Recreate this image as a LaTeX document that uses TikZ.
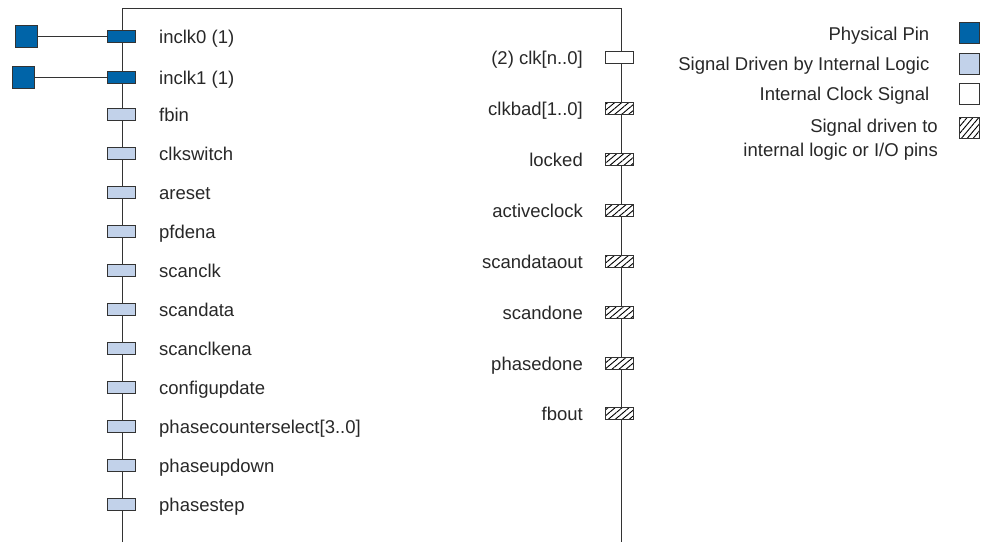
\documentclass[tikz,border=0pt]{standalone}
\usepackage{fontspec}
\setmainfont{Liberation Sans}
\usetikzlibrary{positioning,patterns.meta}
\definecolor{pinblue}{RGB}{0,100,168}
\definecolor{logicblue}{RGB}{194,210,234}
\definecolor{edgegray}{RGB}{51,51,51}
\definecolor{textgray}{RGB}{40,40,40}

\begin{document}
\begin{tikzpicture}[x=1pt, y=-1pt,
    font=\fontsize{18.5}{24}\selectfont,
    txt/.style={inner sep=0pt, text=textgray},
    lbl/.style={txt, text height=13.5pt, text depth=4pt, yshift=-2.5pt},
    pinbox/.style={draw=edgegray, line width=1pt, minimum width=28pt, minimum height=12pt, inner sep=0pt},
    physpin/.style={pinbox, fill=pinblue, minimum width=22pt, minimum height=22pt},
    inpin/.style={pinbox, fill=pinblue},
    logicpin/.style={pinbox, fill=logicblue},
    clkpin/.style={pinbox, fill=white},
    outpin/.style={pinbox, preaction={fill=white}, pattern={Lines[angle=40, distance=4.5pt, line width=0.9pt]}},
    keybox/.style={minimum width=20pt, minimum height=21pt}
  ]
    \useasboundingbox (0,0) rectangle (981,542);

    % Coordinates
    \coordinate (BL) at (122,542);
    \coordinate (TL) at (122,8);
    \coordinate (TR) at (621,8);
    \coordinate (BR) at (621,542);

    % Block outline
    \draw[edgegray, line width=1pt] (BL) -- (TL) -- (TR) -- (BR);

    % Physical pins
    \node[physpin] (x0) at (26,36) {};
    \node[physpin] (x1) at (23.5,77) {};

    % Input pins
    \node[inpin] (inclk0) at (121.5,36) {};
    \node[inpin] (inclk1) at (121.5,77) {};
    \node[logicpin] (fbin) at (121.5,114) {};
    \node[logicpin] (clkswitch) at (121.5,153) {};
    \node[logicpin] (areset) at (121.5,192) {};
    \node[logicpin] (pfdena) at (121.5,231) {};
    \node[logicpin] (scanclk) at (121.5,270) {};
    \node[logicpin] (scandata) at (121.5,309) {};
    \node[logicpin] (scanclkena) at (121.5,348) {};
    \node[logicpin] (configupdate) at (121.5,387) {};
    \node[logicpin] (phasecntsel) at (121.5,426) {};
    \node[logicpin] (phaseupdown) at (121.5,465) {};
    \node[logicpin] (phasestep) at (121.5,504) {};

    \draw[edgegray, line width=1pt] (x0) -- (inclk0);
    \draw[edgegray, line width=1pt] (x1) -- (inclk1);

    \node[lbl, right=23pt of inclk0] (inclk0-l) {inclk0 (1)};
    \node[lbl, right=23pt of inclk1] (inclk1-l) {inclk1 (1)};
    \node[lbl, right=23pt of fbin] (fbin-l) {fbin};
    \node[lbl, right=23pt of clkswitch] (clkswitch-l) {clkswitch};
    \node[lbl, right=23pt of areset] (areset-l) {areset};
    \node[lbl, right=23pt of pfdena] (pfdena-l) {pfdena};
    \node[lbl, right=23pt of scanclk] (scanclk-l) {scanclk};
    \node[lbl, right=23pt of scandata] (scandata-l) {scandata};
    \node[lbl, right=23pt of scanclkena] (scanclkena-l) {scanclkena};
    \node[lbl, right=23pt of configupdate] (configupdate-l) {configupdate};
    \node[lbl, right=23pt of phasecntsel] (phasecntsel-l) {phasecounterselect[3..0]};
    \node[lbl, right=23pt of phaseupdown] (phaseupdown-l) {phaseupdown};
    \node[lbl, right=23pt of phasestep] (phasestep-l) {phasestep};

    % Output pins
    \node[clkpin] (clk) at (619.5,57) {};
    \node[outpin] (clkbad) at (619.5,108) {};
    \node[outpin] (locked) at (619.5,159) {};
    \node[outpin] (activeclock) at (619.5,210) {};
    \node[outpin] (scandataout) at (619.5,261) {};
    \node[outpin] (scandone) at (619.5,312) {};
    \node[outpin] (phasedone) at (619.5,363) {};
    \node[outpin] (fbout) at (619.5,413) {};

    \node[lbl, left=22pt of clk] (clk-l) {(2) clk[n..0]};
    \node[lbl, left=22pt of clkbad] (clkbad-l) {clkbad[1..0]};
    \node[lbl, left=22pt of locked] (locked-l) {locked};
    \node[lbl, left=22pt of activeclock] (activeclock-l) {activeclock};
    \node[lbl, left=22pt of scandataout] (scandataout-l) {scandataout};
    \node[lbl, left=22pt of scandone] (scandone-l) {scandone};
    \node[lbl, left=22pt of phasedone] (phasedone-l) {phasedone};
    \node[lbl, left=22pt of fbout] (fbout-l) {fbout};

    % Legend
    \node[physpin, keybox] (key-phys) at (969,33) {};
    \node[logicpin, keybox] (key-logic) at (969,63.5) {};
    \node[clkpin, keybox] (key-clk) at (969,93.5) {};
    \node[outpin, keybox, pattern={Lines[angle=50, distance=4.5pt, line width=0.9pt]}] (key-out) at (969,127.5) {};

    \node[lbl, left=29pt of key-phys] (key-phys-l) {Physical Pin};
    \node[lbl, left=29pt of key-logic] (key-logic-l) {Signal Driven by Internal Logic};
    \node[lbl, left=29pt of key-clk] (key-clk-l) {Internal Clock Signal};
    \node[txt, align=right, anchor=north east] (key-out-l) at (938,119) {Signal driven to\\internal logic or I/O pins};
  \end{tikzpicture}
\end{document}
